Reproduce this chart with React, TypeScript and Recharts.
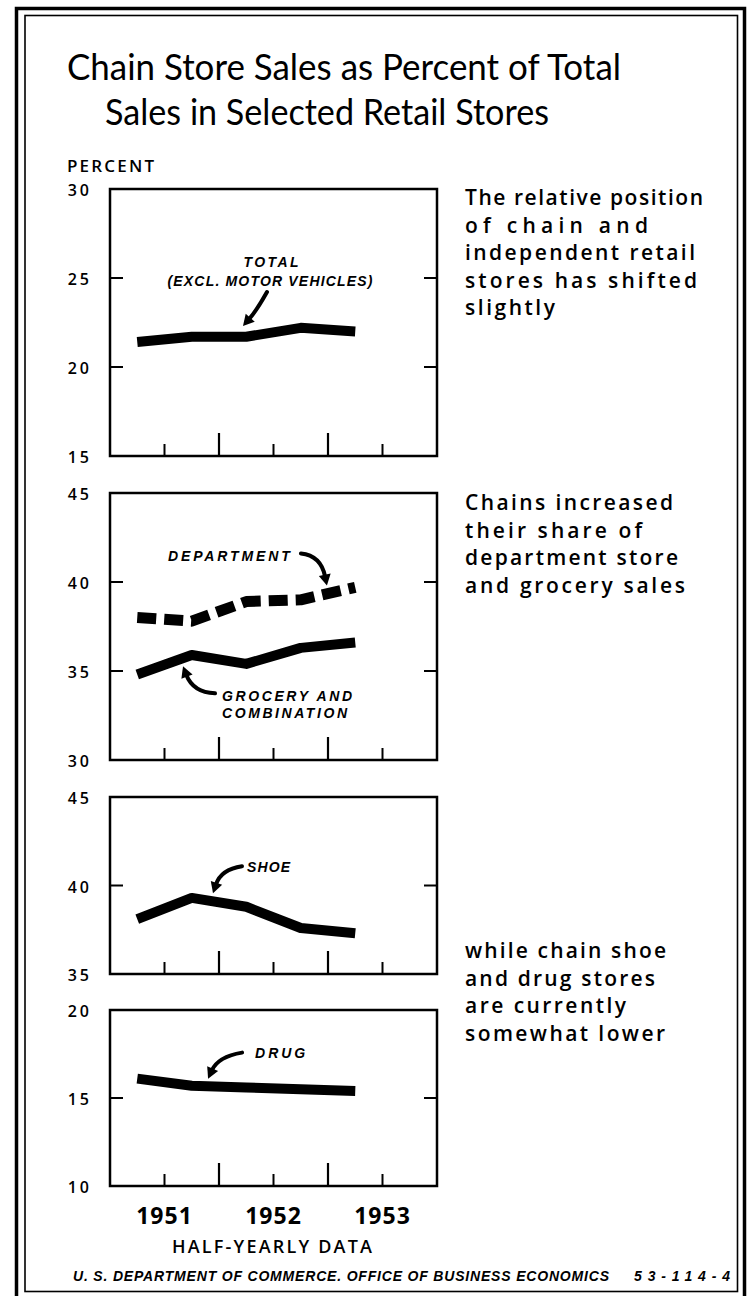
import React from 'react'
import { LineChart, Line, XAxis, YAxis, ReferenceArea, ReferenceLine, ReferenceDot } from 'recharts'

// half-year periods, plotted at the middle of each half on a 0..6 half-year axis (0 = Jan 1951)
const periods = ['1951-I', '1951-II', '1952-I', '1952-II', '1953-I']
const periodPos = [0.5, 1.5, 2.5, 3.5, 4.5]

const total = [21.4, 21.7, 21.7, 22.2, 22.0]
const department = [38.0, 37.8, 38.9, 39.0, 39.7]
const grocery = [34.8, 35.9, 35.4, 36.3, 36.6]
const shoe = [38.1, 39.3, 38.8, 37.6, 37.3]
const drug = [16.1, 15.7, 15.6, 15.5, 15.4]

const yearTicks = [1, 3, 5]
const yearLabels = ['1951', '1952', '1953']
const minorTicks = [1, 3, 5]
const majorTicks = [2, 4]

const data = periods.map((p, i) => ({
  period: p,
  x: periodPos[i],
  total: total[i],
  department: department[i],
  grocery: grocery[i],
  shoe: shoe[i],
  drug: drug[i],
}))

const INK = '#000'
const LABEL_FONT = '"Open Sans", "DejaVu Sans", sans-serif'
const NOTE_FONT = '"Liberation Sans", Arial, sans-serif'

type Label = { text: string; dx: number; dy: number; anchor: 'start' | 'middle' | 'end'; len: number }
type Callout = { x: number; y: number; start: [number, number]; ctrl: [number, number]; labels: Label[] }
type Series = { key: string; dash?: string; width: number }

function calloutShape(c: Callout) {
  return (p: any) => {
    const { cx, cy } = p
    const sx = cx + c.start[0]
    const sy = cy + c.start[1]
    const qx = cx + c.ctrl[0]
    const qy = cy + c.ctrl[1]
    const dx = cx - qx
    const dy = cy - qy
    const d = Math.hypot(dx, dy) || 1
    const ux = dx / d
    const uy = dy / d
    const hl = 11
    const hw = 6
    const bx = cx - ux * hl
    const by = cy - uy * hl
    const head = `M${cx},${cy} L${bx - uy * hw},${by + ux * hw} L${bx + uy * hw},${by - ux * hw} Z`
    return (
      <g>
        <path
          d={`M${sx},${sy} Q${qx},${qy} ${bx + ux * 2},${by + uy * 2}`}
          fill="none"
          stroke={INK}
          strokeWidth={4}
          strokeLinecap="round"
        />
        <path d={head} fill={INK} />
        {c.labels.map((l) => (
          <text
            key={l.text}
            x={cx + l.dx}
            y={cy + l.dy}
            textAnchor={l.anchor}
            fontFamily={NOTE_FONT}
            fontWeight={700}
            fontStyle="italic"
            fontSize={14}
            textLength={l.len}
            lengthAdjust="spacing"
            fill={INK}
          >
            {l.text}
          </text>
        ))}
      </g>
    )
  }
}

function YTick(p: any) {
  return (
    <text
      x={p.x}
      y={p.y + 1}
      textAnchor="end"
      dominantBaseline="central"
      fontFamily={LABEL_FONT}
      fontWeight={600}
      fontSize={16}
      letterSpacing={3}
      fill={INK}
    >
      {p.payload.value}
    </text>
  )
}

function YearTick(p: any) {
  const idx = yearTicks.indexOf(p.payload.value)
  return (
    <text
      x={p.x}
      y={p.y}
      dy="0.71em"
      textAnchor="middle"
      fontFamily={LABEL_FONT}
      fontWeight={700}
      fontSize={23}
      letterSpacing={1}
      fill={INK}
    >
      {yearLabels[idx]}
    </text>
  )
}

function Panel({
  top,
  bottom,
  domain,
  ticks,
  series,
  callouts,
  years,
}: {
  top: number
  bottom: number
  domain: [number, number]
  ticks: number[]
  series: Series[]
  callouts: Callout[]
  years?: boolean
}) {
  const mt = 14
  const axisH = years ? 44 : 0
  const mb = 16
  const plotH = bottom - top
  const height = plotH + mt + mb + axisH
  const [lo, hi] = domain
  const unit = plotH / (hi - lo)
  const xUnit = (437 - 110) / 6
  const inner = ticks.slice(1, -1)
  return (
    <div style={{ position: 'absolute', left: 0, top: top - mt }}>
      <LineChart width={754} height={height} data={data} margin={{ top: mt, right: 317, bottom: mb, left: 60 }}>
        <XAxis
          type="number"
          dataKey="x"
          domain={[0, 6]}
          allowDataOverflow
          hide={!years}
          height={axisH}
          ticks={yearTicks}
          tick={YearTick}
          tickSize={0}
          tickMargin={22}
          tickLine={false}
          axisLine={false}
          interval={0}
        />
        <YAxis
          type="number"
          domain={domain}
          allowDataOverflow
          ticks={ticks}
          width={50}
          tick={YTick}
          tickSize={0}
          tickMargin={18}
          tickLine={false}
          axisLine={false}
          interval={0}
        />
        <ReferenceArea x1={0} x2={6} y1={lo} y2={hi} fill="none" stroke={INK} strokeWidth={2.5} ifOverflow="visible" />
        {minorTicks.map((t) => (
          <ReferenceLine key={'mi' + t} segment={[{ x: t, y: lo }, { x: t, y: lo + 12 / unit }]} stroke={INK} strokeWidth={2} />
        ))}
        {majorTicks.map((t) => (
          <ReferenceLine key={'ma' + t} segment={[{ x: t, y: lo }, { x: t, y: lo + 23 / unit }]} stroke={INK} strokeWidth={2.2} />
        ))}
        {inner.map((v) => (
          <ReferenceLine key={'yl' + v} segment={[{ x: 0, y: v }, { x: 13 / xUnit, y: v }]} stroke={INK} strokeWidth={2} />
        ))}
        {inner.map((v) => (
          <ReferenceLine key={'yr' + v} segment={[{ x: 6 - 13 / xUnit, y: v }, { x: 6, y: v }]} stroke={INK} strokeWidth={2} />
        ))}
        {series.map((s) => (
          <Line
            key={s.key}
            dataKey={s.key}
            type="linear"
            stroke={INK}
            strokeWidth={s.width}
            strokeDasharray={s.dash}
            strokeLinejoin="round"
            dot={false}
            activeDot={false}
            isAnimationActive={false}
          />
        ))}
        {callouts.map((c, i) => (
          <ReferenceDot key={'c' + i} x={c.x} y={c.y} r={1} ifOverflow="visible" shape={calloutShape(c)} />
        ))}
      </LineChart>
    </div>
  )
}

const notes = [
  { lines: ['The relative position', 'of chain and', 'independent retail', 'stores has shifted', 'slightly'], widths: [238, 183, 230, 232, 90], y: 205 },
  { lines: ['Chains increased', 'their share of', 'department store', 'and grocery sales'], widths: [208, 177, 213, 220], y: 510 },
  { lines: ['while chain shoe', 'and drug stores', 'are currently', 'somewhat lower'], widths: [201, 190, 161, 200], y: 958 },
]

function Overlay() {
  return (
    <svg width={754} height={1296} style={{ position: 'absolute', left: 0, top: 0 }}>
      <rect x={16.5} y={8.5} width={728} height={1292} fill="none" stroke={INK} strokeWidth={3.5} />
      <rect x={25} y={15.5} width={712.5} height={1276} fill="none" stroke={INK} strokeWidth={1.6} />
      <text x={67} y={80} fontFamily='Lato, "Open Sans", sans-serif' fontSize={37} textLength={554} lengthAdjust="spacingAndGlyphs" fill={INK}>
        Chain Store Sales as Percent of Total
      </text>
      <text x={105} y={125} fontFamily='Lato, "Open Sans", sans-serif' fontSize={37} textLength={444} lengthAdjust="spacingAndGlyphs" fill={INK}>
        Sales in Selected Retail Stores
      </text>
      <text x={67} y={172} fontFamily={LABEL_FONT} fontWeight={600} fontSize={17} textLength={87} lengthAdjust="spacing" fill={INK}>
        PERCENT
      </text>
      {notes.map((n, bi) =>
        n.lines.map((t, i) => (
          <text
            key={bi + '-' + i}
            x={465}
            y={n.y + i * 27.5}
            fontFamily={LABEL_FONT}
            fontWeight={600}
            fontSize={21}
            textLength={n.widths[i]}
            lengthAdjust="spacing"
            fill={INK}
          >
            {t}
          </text>
        ))
      )}
      <text x={272} y={1253} textAnchor="middle" fontFamily={LABEL_FONT} fontWeight={600} fontSize={18} textLength={200} lengthAdjust="spacing" fill={INK}>
        HALF-YEARLY DATA
      </text>
      <text x={73} y={1281} fontFamily={NOTE_FONT} fontWeight={700} fontStyle="italic" fontSize={14} textLength={536} lengthAdjust="spacing" fill={INK}>
        U. S. DEPARTMENT OF COMMERCE. OFFICE OF BUSINESS ECONOMICS
      </text>
      <text x={634} y={1281} fontFamily={NOTE_FONT} fontWeight={700} fontStyle="italic" fontSize={14} textLength={96} lengthAdjust="spacing" fill={INK}>
        53-114-4
      </text>
    </svg>
  )
}

export default function App() {
  return (
    <div style={{ position: 'absolute', left: 0, top: 0, width: 754, height: 1296, background: '#fff', overflow: 'hidden' }}>
      <Overlay />
      <Panel
        top={189}
        bottom={456}
        domain={[15, 30]}
        ticks={[15, 20, 25, 30]}
        series={[{ key: 'total', width: 10 }]}
        callouts={[
          {
            x: 2.44,
            y: 22.3,
            start: [24, -34],
            ctrl: [14, -16],
            labels: [
              { text: 'TOTAL', dx: 28, dy: -59, anchor: 'middle', len: 55 },
              { text: '(EXCL. MOTOR VEHICLES)', dx: 27, dy: -40, anchor: 'middle', len: 205 },
            ],
          },
        ]}
      />
      <Panel
        top={493}
        bottom={760}
        domain={[30, 45]}
        ticks={[30, 35, 40, 45]}
        series={[
          { key: 'department', width: 11, dash: '19 8' },
          { key: 'grocery', width: 10 },
        ]}
        callouts={[
          {
            x: 3.98,
            y: 39.8,
            start: [-26, -32],
            ctrl: [-6, -30],
            labels: [{ text: 'DEPARTMENT', dx: -37, dy: -25, anchor: 'end', len: 122 }],
          },
          {
            x: 1.34,
            y: 35.26,
            start: [32, 27],
            ctrl: [10, 26],
            labels: [
              { text: 'GROCERY AND', dx: 39, dy: 35, anchor: 'start', len: 130 },
              { text: 'COMBINATION', dx: 39, dy: 52, anchor: 'start', len: 125 },
            ],
          },
        ]}
      />
      <Panel
        top={797}
        bottom={974}
        domain={[35, 45]}
        ticks={[35, 40, 45]}
        series={[{ key: 'shoe', width: 10 }]}
        callouts={[
          {
            x: 1.89,
            y: 39.56,
            start: [29, -27],
            ctrl: [8, -24],
            labels: [{ text: 'SHOE', dx: 34, dy: -21, anchor: 'start', len: 43 }],
          },
        ]}
      />
      <Panel
        top={1010}
        bottom={1186}
        domain={[10, 20]}
        ticks={[10, 15, 20]}
        series={[{ key: 'drug', width: 10 }]}
        years
        callouts={[
          {
            x: 1.8,
            y: 16.1,
            start: [34, -26],
            ctrl: [10, -22],
            labels: [{ text: 'DRUG', dx: 47, dy: -21, anchor: 'start', len: 50 }],
          },
        ]}
      />
    </div>
  )
}
